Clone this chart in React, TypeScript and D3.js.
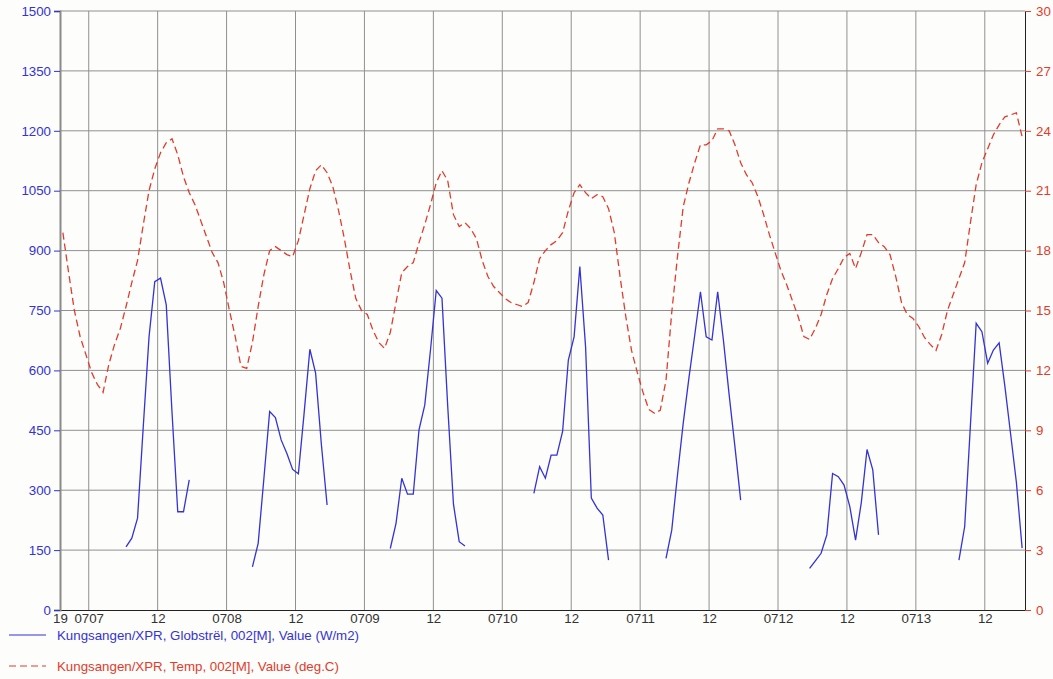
import * as d3 from "d3";
import React, { useEffect, useRef } from "react";

// chart is 7 days, 0706 19:00 -> 0713 19:00 (year not shown, 2007 used)
const YEAR = 2007;
const dayLabels = ["0707", "0708", "0709", "0710", "0711", "0712", "0713"];
const radTicks = [0, 150, 300, 450, 600, 750, 900, 1050, 1200, 1350, 1500];
const tempTicks = [0, 3, 6, 9, 12, 15, 18, 21, 24, 27, 30];

// Temp, deg.C, hourly at hh:30
const temp0706 = [18.9, 16.9, 15.0, 13.7, 12.8]; // from 19:30
const temp0707 = [11.9, 11.3, 10.9, 12.3, 13.3, 14.1, 15.2, 16.4, 17.5, 19.3, 21.0, 22.1, 22.9, 23.4, 23.6, 22.8, 21.7, 20.9, 20.3, 19.5, 18.7, 17.9, 17.4, 16.4];
const temp0708 = [15.0, 13.7, 12.2, 12.1, 13.4, 15.2, 16.8, 18.0, 18.2, 18.0, 17.8, 17.7, 18.5, 19.8, 21.1, 22.0, 22.3, 21.9, 21.2, 20.0, 18.6, 17.0, 15.6, 15.0];
const temp0709 = [14.8, 14.0, 13.4, 13.1, 13.9, 15.4, 16.9, 17.2, 17.4, 18.4, 19.3, 20.3, 21.4, 22.0, 21.5, 19.8, 19.2, 19.4, 19.1, 18.6, 17.5, 16.7, 16.2, 15.9];
const temp0710 = [15.6, 15.4, 15.3, 15.2, 15.4, 16.4, 17.6, 18.0, 18.3, 18.5, 18.9, 20.0, 20.9, 21.3, 20.9, 20.6, 20.8, 20.7, 20.1, 18.9, 16.7, 14.7, 13.0, 11.9];
const temp0711 = [10.9, 10.05, 9.85, 10.0, 11.5, 14.9, 17.7, 20.2, 21.4, 22.4, 23.3, 23.3, 23.5, 24.1, 24.1, 24.0, 23.3, 22.4, 21.8, 21.4, 20.7, 19.8, 18.8, 17.9];
const temp0712 = [17.0, 16.3, 15.5, 14.7, 13.7, 13.55, 14.1, 14.8, 15.8, 16.6, 17.1, 17.66, 17.86, 17.1, 17.9, 18.8, 18.8, 18.4, 18.2, 17.8, 16.7, 15.4, 14.8, 14.6];
const temp0713 = [14.2, 13.65, 13.3, 13.0, 13.8, 15.0, 15.8, 16.6, 17.4, 19.4, 21.3, 22.4, 23.1, 23.8, 24.3, 24.7, 24.8, 24.9, 23.7]; // to 18:30

// Globstrål, W/m2, hourly at hh:30, daytime only
const rad0707 = [158, 180, 230, 460, 684, 822, 831, 764, 495, 246, 246, 326]; // from 06:30
const rad0708 = [108, 167, 330, 497, 482, 426, 392, 352, 341, 493, 653, 593, 415, 263]; // from 04:30
const rad0709 = [154, 217, 330, 290, 290, 451, 513, 651, 800, 781, 510, 265, 171, 160]; // from 04:30
const rad0710 = [292, 359, 330, 388, 388, 447, 626, 684, 860, 659, 280, 255, 238, 125]; // from 05:30
const rad0711 = [129, 200, 338, 468, 582, 688, 797, 684, 676, 797, 675, 538, 409, 275]; // from 04:30
const rad0712 = [104, 123, 142, 188, 342, 334, 313, 259, 175, 269, 402, 351, 188]; // from 05:30
const rad0713 = [125, 209, 463, 718, 697, 618, 651, 669, 560, 440, 320, 155]; // from 07:30

const tempDays = [
  { day: 6, from: 19, values: temp0706 },
  { day: 7, from: 0, values: temp0707 },
  { day: 8, from: 0, values: temp0708 },
  { day: 9, from: 0, values: temp0709 },
  { day: 10, from: 0, values: temp0710 },
  { day: 11, from: 0, values: temp0711 },
  { day: 12, from: 0, values: temp0712 },
  { day: 13, from: 0, values: temp0713 },
];
const radDays = [
  { day: 7, from: 6, values: rad0707 },
  { day: 8, from: 4, values: rad0708 },
  { day: 9, from: 4, values: rad0709 },
  { day: 10, from: 5, values: rad0710 },
  { day: 11, from: 4, values: rad0711 },
  { day: 12, from: 5, values: rad0712 },
  { day: 13, from: 7, values: rad0713 },
];

const toPoints = (d) =>
  d.values.map((v, i) => ({ t: new Date(Date.UTC(YEAR, 6, d.day, d.from + i, 30)), v }));

const BLUE = "#3333d6";
const RED = "#e03c2c";
const FONT = "'Liberation Sans', Arial, sans-serif";
const FS = "13.3px";

export default function App() {
  const svgRef = useRef(null);

  useEffect(() => {
    const width = 1053;
    const height = 679;
    const left = 60;
    const right = 1025;
    const top = 11;
    const bottom = 610;

    const svg = d3.select(svgRef.current).attr("width", width).attr("height", height);
    svg.selectAll("*").remove();
    svg.append("rect").attr("width", width).attr("height", height).attr("fill", "#fdfdfb");

    const x = d3
      .scaleUtc()
      .domain([new Date(Date.UTC(YEAR, 6, 6, 19)), new Date(Date.UTC(YEAR, 6, 13, 19))])
      .range([left, right]);
    const yRad = d3.scaleLinear().domain([0, 1500]).range([bottom, top]);
    const yTemp = d3.scaleLinear().domain([0, 30]).range([bottom, top]);

    const xTicks = [new Date(Date.UTC(YEAR, 6, 6, 19))];
    for (let day = 7; day <= 13; day++) {
      xTicks.push(new Date(Date.UTC(YEAR, 6, day, 0)));
      xTicks.push(new Date(Date.UTC(YEAR, 6, day, 12)));
    }

    //grid
    const grid = svg.append("g").attr("stroke", "#909090").attr("stroke-width", 1);
    grid
      .selectAll(".h")
      .data(radTicks.slice(1))
      .join("line")
      .attr("x1", left)
      .attr("x2", right)
      .attr("y1", (d) => yRad(d))
      .attr("y2", (d) => yRad(d));
    grid
      .selectAll(".v")
      .data(xTicks.slice(1))
      .join("line")
      .attr("x1", (d) => x(d))
      .attr("x2", (d) => x(d))
      .attr("y1", top)
      .attr("y2", bottom);

    //axes
    const xAxis = d3
      .axisBottom(x)
      .tickValues(xTicks)
      .tickSize(0)
      .tickPadding(4)
      .tickFormat((d) => {
        const h = d.getUTCHours();
        if (h === 19) return "19";
        if (h === 12) return "12";
        return dayLabels[d.getUTCDate() - 7];
      });
    const gx = svg.append("g").attr("transform", `translate(0,${bottom})`).call(xAxis);
    gx.select(".domain").attr("stroke", "#222");
    gx.selectAll("text").attr("fill", "#333").style("font", `${FS} ${FONT}`);

    const gl = svg
      .append("g")
      .attr("transform", `translate(${left},0)`)
      .call(d3.axisLeft(yRad).tickValues(radTicks).tickSize(6).tickPadding(3).tickFormat(d3.format("d")));
    gl.select(".domain").attr("stroke", "#8a8a8a").attr("stroke-width", 2);
    gl.selectAll(".tick line").attr("stroke", BLUE);
    gl.selectAll("text").attr("fill", BLUE).style("font", `${FS} ${FONT}`);

    const gr = svg
      .append("g")
      .attr("transform", `translate(${right},0)`)
      .call(d3.axisRight(yTemp).tickValues(tempTicks).tickSize(6).tickPadding(5).tickFormat(d3.format("d")));
    gr.select(".domain").attr("stroke", "#222");
    gr.selectAll(".tick line").attr("stroke", RED);
    gr.selectAll("text").attr("fill", RED).style("font", `${FS} ${FONT}`);

    //series
    const radLine = d3
      .line()
      .x((d) => x(d.t))
      .y((d) => yRad(d.v));
    const tempLine = d3
      .line()
      .x((d) => x(d.t))
      .y((d) => yTemp(d.v));

    svg
      .append("path")
      .datum(tempDays.flatMap(toPoints))
      .attr("d", tempLine)
      .attr("fill", "none")
      .attr("stroke", RED)
      .attr("stroke-width", 1.3)
      .attr("stroke-dasharray", "7,4");

    svg
      .selectAll(".rad")
      .data(radDays.map(toPoints))
      .join("path")
      .attr("d", radLine)
      .attr("fill", "none")
      .attr("stroke", BLUE)
      .attr("stroke-width", 1.3);

    //legend
    const legend = [
      { label: "Kungsangen/XPR, Globstrël, 002[M], Value (W/m2)", color: BLUE, dash: null },
      { label: "Kungsangen/XPR, Temp, 002[M], Value (deg.C)", color: RED, dash: "7,4" },
    ];
    const lg = svg
      .selectAll(".legend")
      .data(legend)
      .join("g")
      .attr("transform", (d, i) => `translate(0,${635 + i * 31})`);
    lg.append("line")
      .attr("x1", 9)
      .attr("x2", 46)
      .attr("stroke", (d) => d.color)
      .attr("stroke-dasharray", (d) => d.dash);
    lg.append("text")
      .attr("x", 57)
      .attr("y", 5)
      .attr("fill", (d) => d.color)
      .style("font", `${FS} ${FONT}`)
      .text((d) => d.label);
  }, []);

  return (
    <div style={{ position: "absolute", left: 0, top: 0 }}>
      <svg ref={svgRef} style={{ display: "block" }}></svg>
    </div>
  );
}
